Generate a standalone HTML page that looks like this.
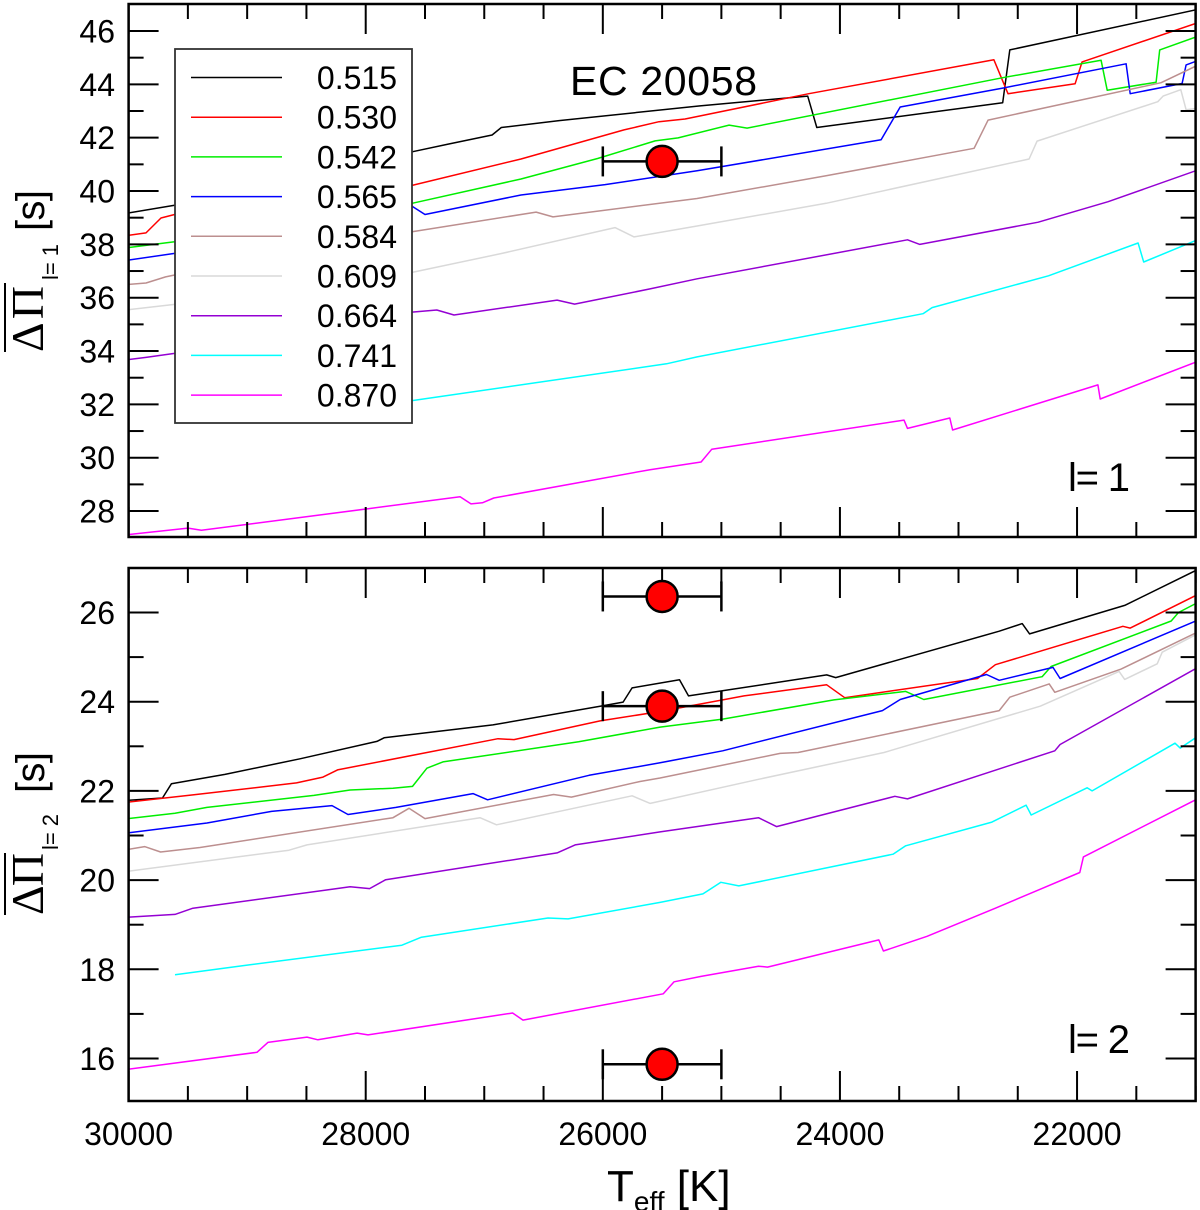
<!DOCTYPE html>
<html><head><meta charset="utf-8"><style>
html,body{margin:0;padding:0;background:#fff;}
svg{display:block;font-family:"Liberation Sans",sans-serif;}
</style></head><body>
<svg id="chart" width="1200" height="1210" viewBox="0 0 1200 1210" xmlns="http://www.w3.org/2000/svg">
<defs>
<clipPath id="clipTop"><rect x="129" y="4" width="1066" height="533"/></clipPath>
<clipPath id="clipBot"><rect x="129" y="568" width="1066" height="533"/></clipPath>
</defs>
<g id="topSeries" clip-path="url(#clipTop)"></g>
<g id="botSeries" clip-path="url(#clipBot)"></g>
<g id="axes"></g>
<g id="points"></g>
<g id="legend"></g>

<text x="570" y="95" font-size="41" textLength="187">EC 20058</text>
<text x="1068" y="491" font-size="40" textLength="62">l= 1</text>
<text x="1068" y="1053" font-size="40" textLength="62">l= 2</text>

<g>
<text transform="translate(43,352) rotate(-90)" font-family="Liberation Serif,serif" font-size="46" textLength="66">ΔΠ</text>
<line x1="5" y1="283" x2="5" y2="352" stroke="#000" stroke-width="2"/>
<text transform="translate(58,280) rotate(-90)" font-size="22" textLength="36">l= 1</text>
<text transform="translate(44,231) rotate(-90)" font-size="40" textLength="41">[s]</text>
</g>
<g>
<text transform="translate(43,915) rotate(-90)" font-family="Liberation Serif,serif" font-size="46" textLength="62">ΔΠ</text>
<line x1="5" y1="853" x2="5" y2="915" stroke="#000" stroke-width="2"/>
<text transform="translate(58,850) rotate(-90)" font-size="22" textLength="36">l= 2</text>
<text transform="translate(44,793) rotate(-90)" font-size="40" textLength="41">[s]</text>
</g>
<text x="607" y="1201" font-size="44">T<tspan font-size="28" dy="10">eff</tspan><tspan font-size="44" dy="-10"> [K]</tspan></text>
</svg>
<script>
const masses = ["0.515","0.530","0.542","0.565","0.584","0.609","0.664","0.741","0.870"];
const colors = ["#000000","#ff0000","#00ee00","#0000ff","#bc8f8f","#d9d9d9","#9400d3","#00ffff","#ff00ff"];
const xTicksMajor = [30000,28000,26000,24000,22000];
const xTickLabels = ["30000","28000","26000","24000","22000"];
const yTopTicks = [28,30,32,34,36,38,40,42,44,46];
const yBotTicks = [16,18,20,22,24,26];

const top515=[[30000,39.18],[29612,39.47],[27609,41.47],[27304,41.76],[26934,42.1],[26856,42.38],[26369,42.64],[25180,43.19],[24272,43.56],[24195,42.38],[22627,43.31],[22567,45.29],[21000,46.79]];
const top530=[[30000,38.34],[29853,38.43],[29727,38.99],[29612,39.12],[27609,40.21],[26690,41.2],[25821,42.29],[25526,42.6],[25306,42.7],[24263,43.65],[22701,44.92],[22582,43.65],[22016,44.02],[21957,44.84],[21000,46.28]];
const top542=[[30000,37.88],[29612,38.1],[27609,39.54],[26690,40.45],[26044,41.22],[25559,41.88],[25365,41.99],[24935,42.47],[24783,42.36],[22627,44.25],[21797,44.9],[21746,43.78],[21333,44.08],[21303,45.29],[21000,45.77]];
const top565=[[30000,37.41],[29612,37.66],[27609,39.43],[27500,39.12],[26690,39.85],[25981,40.24],[25205,40.76],[23653,41.92],[23492,43.15],[22627,43.86],[21586,44.77],[21552,43.65],[21114,44.03],[21080,44.73],[21000,44.86]];
const top584=[[30000,36.5],[29853,36.55],[29688,36.78],[29612,36.85],[27609,38.47],[26563,39.21],[26420,39.03],[25205,39.72],[24117,40.57],[22868,41.6],[22750,42.66],[21291,44.06],[21000,44.68]];
const top609=[[30000,35.55],[29612,35.75],[27609,36.95],[26850,37.66],[25897,38.63],[25736,38.28],[25205,38.69],[24117,39.54],[22404,41.2],[22337,41.87],[21319,43.35],[21274,43.56],[21125,43.8],[21080,43.05],[21000,43.09]];
const top664=[[30000,33.68],[29853,33.76],[29612,33.91],[27609,35.46],[27400,35.54],[27255,35.35],[26386,35.91],[26238,35.76],[25602,36.33],[25205,36.71],[23430,38.17],[23326,38.0],[22328,38.83],[21738,39.6],[21000,40.76]];
const top741=[[29600,31.3],[27609,32.14],[25463,33.52],[25205,33.78],[23299,35.4],[23223,35.63],[22241,36.82],[21485,38.05],[21438,37.34],[21000,38.14]];
const top870=[[30000,27.12],[29499,27.36],[29386,27.28],[27980,28.09],[27204,28.54],[27112,28.27],[27016,28.31],[26920,28.49],[25602,29.55],[25171,29.84],[25081,30.32],[23460,31.41],[23430,31.1],[23073,31.49],[23050,31.04],[21824,32.73],[21805,32.2],[21000,33.58]];

const bot515=[[30000,21.79],[29714,21.84],[29639,22.16],[29187,22.37],[28554,22.72],[27906,23.11],[27845,23.19],[26927,23.48],[26023,23.9],[25829,23.99],[25753,24.31],[25353,24.49],[25277,24.13],[24112,24.6],[24036,24.54],[22657,25.58],[22463,25.75],[22400,25.52],[21598,26.16],[21000,26.94]];
const bot530=[[30000,21.75],[29458,21.91],[28584,22.18],[28360,22.31],[28238,22.47],[26884,23.17],[26749,23.15],[26023,23.57],[25517,23.78],[24989,24.04],[24809,24.13],[24112,24.38],[23960,24.09],[22840,24.52],[22689,24.83],[21613,25.69],[21552,25.65],[21000,26.38]];
const bot542=[[30000,21.38],[29609,21.5],[29339,21.63],[28436,21.9],[28132,22.02],[27770,22.06],[27605,22.1],[27484,22.51],[27349,22.65],[26204,23.1],[25517,23.43],[24989,23.61],[24051,24.04],[23445,24.23],[23293,24.05],[22295,24.56],[22219,24.79],[21206,25.81],[21144,26.0],[21000,26.2]];
const bot565=[[30000,21.06],[29339,21.28],[28795,21.54],[28284,21.67],[28149,21.47],[27744,21.63],[27095,21.94],[26972,21.8],[26116,22.35],[25517,22.63],[24989,22.9],[23642,23.8],[23492,24.05],[22764,24.61],[22657,24.48],[22203,24.77],[22143,24.52],[21000,25.81]];
const bot584=[[30000,20.69],[29865,20.75],[29730,20.63],[29398,20.73],[27770,21.4],[27635,21.61],[27500,21.38],[26415,21.92],[26265,21.86],[25686,22.21],[25517,22.29],[24505,22.84],[24353,22.86],[22657,23.8],[22567,24.1],[22235,24.4],[22188,24.21],[21628,24.73],[21000,25.54]];
const bot609=[[30000,20.2],[28647,20.67],[28495,20.79],[27036,21.4],[26897,21.24],[25753,21.89],[25600,21.72],[24687,22.26],[23628,22.86],[22311,23.9],[21645,24.68],[21598,24.5],[21324,24.85],[21282,25.11],[21000,25.5]];
const bot664=[[30000,19.17],[29609,19.23],[29458,19.37],[28132,19.85],[27967,19.81],[27831,20.01],[26386,20.61],[26234,20.79],[25517,21.08],[24687,21.4],[24535,21.2],[23536,21.88],[23430,21.82],[22188,22.9],[22143,23.04],[21000,24.74]];
const bot741=[[29609,17.88],[28976,18.1],[27695,18.54],[27530,18.72],[26462,19.15],[26293,19.13],[25517,19.5],[25156,19.69],[25004,19.95],[24853,19.87],[23552,20.58],[23445,20.77],[22718,21.3],[22430,21.68],[22387,21.46],[21915,22.07],[21873,22.0],[21174,23.07],[21130,22.96],[21000,23.19]];
const bot870=[[30000,15.76],[28917,16.14],[28825,16.36],[28495,16.48],[28403,16.42],[28073,16.57],[27981,16.53],[26761,17.02],[26673,16.86],[25490,17.45],[25399,17.72],[25171,17.84],[24687,18.07],[24611,18.05],[23672,18.66],[23633,18.41],[23265,18.74],[22689,19.37],[21977,20.17],[21946,20.52],[21000,21.8]];

const obsTeff = [25500];
const obsTeffErr = [500];
const obsTop = [41.11];
const obsBot = [26.36, 23.9, 15.87];

const topSeries=[top515,top530,top542,top565,top584,top609,top664,top741,top870];
const botSeries=[bot515,bot530,bot542,bot565,bot584,bot609,bot664,bot741,bot870];

const X0=128.6, X1=1195.6, XD0=30000, XD1=21000;
function xS(t){return X0+(XD0-t)*(X1-X0)/(XD0-XD1);}
function yT(v){return 31+(46-v)*26.67;}
function yB(v){return 612.5+(26-v)*44.6;}
const NS="http://www.w3.org/2000/svg";
function mk(tag,attrs,parent){const e=document.createElementNS(NS,tag);for(const k in attrs)e.setAttribute(k,attrs[k]);parent.appendChild(e);return e;}

function drawSeries(g,series,yf,prefix){
  series.forEach((s,i)=>{
    const d=s.map((p,j)=>(j?"L":"M")+xS(p[0]).toFixed(1)+","+yf(p[1]).toFixed(1)).join("");
    const p=mk("path",{d:d,fill:"none",stroke:colors[i],"stroke-width":"1.5","stroke-linejoin":"round"},g);
    
    
  });
}
drawSeries(document.getElementById("topSeries"),topSeries,yT,"l1");
drawSeries(document.getElementById("botSeries"),botSeries,yB,"l2");

const ax=document.getElementById("axes");
function frame(y0,y1,yticks,yf,name){
  const r=mk("rect",{x:X0,y:y0,width:X1-X0,height:y1-y0,fill:"none",stroke:"#000","stroke-width":"2.5"},ax);
  
  
  for(let t=XD0;t>=XD1;t-=500){
    const x=xS(t), major=(t%2000===0), L=major?30:15;
    mk("line",{x1:x,y1:y1,x2:x,y2:y1-L,stroke:"#000","stroke-width":"2"},ax);
    mk("line",{x1:x,y1:y0,x2:x,y2:y0+L,stroke:"#000","stroke-width":"2"},ax);
  }
  const vmin=yticks[0]-2, vmax=yticks[yticks.length-1]+1;
  for(let v=vmin;v<=vmax;v+=1){
    const y=yf(v); if(y<y0+1||y>y1-1) continue;
    const major=yticks.indexOf(v)>=0, L=major?30:15;
    mk("line",{x1:X0,y1:y,x2:X0+L,y2:y,stroke:"#000","stroke-width":"2"},ax);
    mk("line",{x1:X1,y1:y,x2:X1-L,y2:y,stroke:"#000","stroke-width":"2"},ax);
  }
  yticks.forEach(v=>{
    const t=mk("text",{x:115,y:yf(v)+11.5,"font-size":"32","text-anchor":"end"},ax);
    t.textContent=String(v);
    
    
  });
}
frame(4,537,yTopTicks,yT,"top-panel");
frame(568,1101,yBotTicks,yB,"bottom-panel");
xTicksMajor.forEach((t,i)=>{
  const tx=mk("text",{x:xS(t),y:1145,"font-size":"32","text-anchor":"middle"},ax);
  tx.textContent=xTickLabels[i];
  
  
});

const pg=document.getElementById("points");
function obs(t,e,v,yf){
  const x=xS(t), y=yf(v), xa=xS(t+e), xb=xS(t-e);
  const g=mk("g",{},pg);
  
  
  mk("line",{x1:xa,y1:y,x2:xb,y2:y,stroke:"#000","stroke-width":"2.5"},g);
  mk("line",{x1:xa,y1:y-15,x2:xa,y2:y+15,stroke:"#000","stroke-width":"2.5"},g);
  mk("line",{x1:xb,y1:y-15,x2:xb,y2:y+15,stroke:"#000","stroke-width":"2.5"},g);
  mk("circle",{cx:x,cy:y,r:15.5,fill:"#ff0000",stroke:"#000","stroke-width":"2.5"},g);
}
obsTop.forEach(v=>obs(obsTeff[0],obsTeffErr[0],v,yT));
obsBot.forEach(v=>obs(obsTeff[0],obsTeffErr[0],v,yB));

const lg=document.getElementById("legend");
const box=mk("rect",{x:175,y:49,width:237,height:374,fill:"#fff",stroke:"#333","stroke-width":"1.8"},lg);


masses.forEach((m,i)=>{
  const y=77.5+i*39.7;
  const g=mk("g",{},lg);
  
  
  mk("line",{x1:191,y1:y,x2:282,y2:y,stroke:colors[i],"stroke-width":"1.5"},g);
  const t=mk("text",{x:397,y:y+11.5,"font-size":"32","text-anchor":"end"},g);
  t.textContent=m;
});
</script>
</body></html>
